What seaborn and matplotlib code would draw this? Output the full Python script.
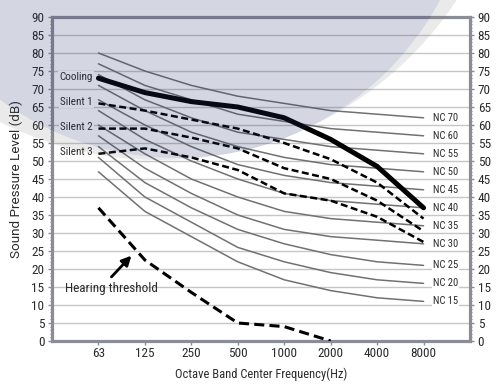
import numpy as np
import pandas as pd
import matplotlib
matplotlib.use("Agg")
import matplotlib.pyplot as plt
from matplotlib.patches import Circle, PathPatch
from matplotlib.path import Path
from matplotlib.ticker import MultipleLocator
import seaborn as sns

# ---- data -------------------------------------------------------------
freq_labels = ["63", "125", "250", "500", "1000", "2000", "4000", "8000"]

nc_names = ["NC 15", "NC 20", "NC 25", "NC 30", "NC 35", "NC 40",
            "NC 45", "NC 50", "NC 55", "NC 60", "NC 70"]
nc15 = [47, 36, 29, 22, 17, 14, 12, 11]
nc20 = [51, 40, 33, 26, 22, 19, 17, 16]
nc25 = [54, 44, 37, 31, 27, 24, 22, 21]
nc30 = [57, 48, 41, 35, 31, 29, 28, 27]
nc35 = [60, 52, 45, 40, 36, 34, 33, 32]
nc40 = [64, 56, 50, 45, 41, 39, 38, 37]
nc45 = [67, 60, 54, 49, 46, 44, 43, 42]
nc50 = [71, 64, 58, 54, 51, 49, 48, 47]
nc55 = [74, 67, 62, 58, 56, 54, 53, 52]
nc60 = [77, 71, 67, 63, 61, 59, 58, 57]
nc70 = [80, 75, 71, 68, 66, 64, 63, 62]
nc_curves = [nc15, nc20, nc25, nc30, nc35, nc40, nc45, nc50, nc55, nc60, nc70]

cooling = [73, 69, 66.5, 65, 62, 56, 48.5, 37]
silent1 = [66, 64, 61.5, 59, 55, 50.5, 44, 34]
silent2 = [59, 59, 56.5, 53.5, 48, 45, 39, 30.5]
silent3 = [52, 53.5, 51, 47.5, 41, 39, 34.5, 27.5]

hearing_labels = ["63", "125", "250", "500", "1000", "2000"]
hearing = [37, 22.5, 13.5, 5, 4, 0]

# ---- style ------------------------------------------------------------
sns.set_style("white")
plt.rcParams["font.family"] = ["Roboto Condensed", "DejaVu Sans"]
text_c = "#2b2b2b"

pos = np.arange(len(freq_labels))
nc_df = pd.DataFrame({
    "pos": np.tile(pos, len(nc_names)),
    "level": np.concatenate(nc_curves),
    "curve": np.repeat(nc_names, len(freq_labels)),
})

fig = plt.figure(figsize=(4.96, 3.85), dpi=100)
fig.patch.set_facecolor("white")
ax = fig.add_axes([52 / 496, 1 - 341 / 385, 418 / 496, 324 / 385])
ax.set_facecolor("white")

# NC reference curves
sns.lineplot(data=nc_df, x="pos", y="level", units="curve", estimator=None,
             color="#717171", lw=1.1, ax=ax, legend=False, zorder=3)

# operating modes
sns.lineplot(x=pos, y=cooling, color="black", lw=3.6, ax=ax, zorder=5)
for s in (silent1, silent2, silent3):
    sns.lineplot(x=pos, y=s, color="black", lw=1.8,
                 linestyle=(0, (2.8, 1.4)), ax=ax, zorder=4)

# hearing threshold
sns.lineplot(x=np.arange(len(hearing_labels)), y=hearing, color="black",
             lw=2.2, linestyle=(0, (3.3, 1.7)), ax=ax, zorder=4)

# ---- axes -------------------------------------------------------------
ax.set_xlim(-1, len(freq_labels))
ax.set_ylim(0, 90)
ax.set_xticks(pos)
ax.set_xticklabels(freq_labels)
ax.yaxis.set_major_locator(MultipleLocator(5))
ax.yaxis.set_minor_locator(MultipleLocator(1))
ax.yaxis.grid(True, which="major", color="#c6c6c6", lw=1.0)
ax.xaxis.grid(False)
ax.set_axisbelow(True)

spine_c = "#8b8d96"
for sp in ax.spines.values():
    sp.set_visible(True)
    sp.set_color(spine_c)
    sp.set_linewidth(2.3)

ax.tick_params(axis="y", which="major", left=True, right=True,
               labelleft=True, labelright=True, length=3, width=1,
               color=spine_c, pad=2.5, labelsize=9.5, labelcolor=text_c)
ax.tick_params(axis="y", which="minor", left=True, right=True,
               length=1.5, width=0.8, color=spine_c)
ax.tick_params(axis="x", which="major", bottom=True, length=3, width=1,
               color=spine_c, pad=1.5, labelsize=9.5, labelcolor=text_c)

ax.set_xlabel("Octave Band Center Frequency(Hz)", fontsize=9,
              color=text_c, labelpad=5)
ax.set_ylabel("Sound Pressure Level (dB)", fontsize=9.7, color=text_c,
              labelpad=6, family=["Roboto", "DejaVu Sans"])

# ---- annotations ------------------------------------------------------
box = dict(facecolor="white", edgecolor="none", pad=0.8)
for name, vals in zip(nc_names, nc_curves):
    ax.text(7.2, vals[-1], name, ha="left", va="center", fontsize=7.6,
            color=text_c, bbox=box, zorder=6)

for name, vals in (("Cooling", cooling), ("Silent 1", silent1),
                   ("Silent 2", silent2), ("Silent 3", silent3)):
    ax.text(-0.13, vals[0] + 0.4, name, ha="right", va="center",
            fontsize=8, color=text_c, bbox=box, zorder=6)

ax.text(-0.73, 14.5, "Hearing threshold", ha="left", va="center",
        fontsize=9.5, color=text_c, zorder=6)
ax.annotate("", xy=(0.71, 23.7), xytext=(0.28, 17.8),
            arrowprops=dict(arrowstyle="-|>", color="black", lw=2,
                            mutation_scale=14, shrinkA=0, shrinkB=0),
            zorder=6)

# ---- translucent backdrop circle -------------------------------------
ov = fig.add_axes([0, 0, 1, 1], zorder=10)
ov.set_xlim(0, 496)
ov.set_ylim(385, 0)
ov.axis("off")
ov.patch.set_alpha(0)

t = np.linspace(0, 2 * np.pi, 400)
outer = np.column_stack([160 + 355 * np.cos(t), -195 + 355 * np.sin(t)])
inner = np.column_stack([177 + 298 * np.cos(t), -140 + 298 * np.sin(t)])[::-1]
ring = Path.make_compound_path(Path(outer, closed=True), Path(inner, closed=True))
ov.add_patch(PathPatch(ring, facecolor=(0.47, 0.47, 0.47), alpha=0.15,
                       edgecolor="none"))
ov.add_patch(Circle((177, -140), 298, facecolor=(40 / 255, 50 / 255, 110 / 255),
                    alpha=0.2, edgecolor="none"))

fig.savefig("out.png", dpi=100, facecolor="white")
